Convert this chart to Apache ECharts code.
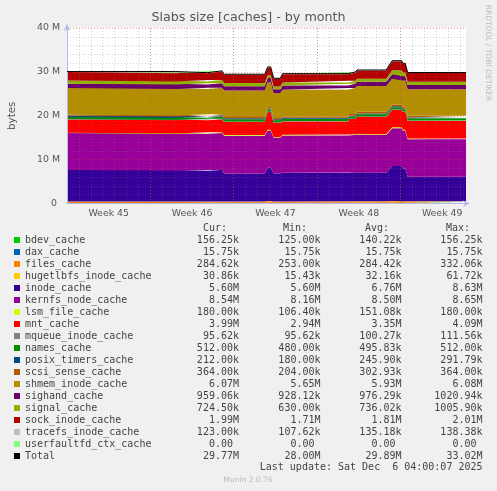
<!DOCTYPE html>
<html><head><meta charset="utf-8">
<script src="https://cdn.jsdelivr.net/npm/echarts@6/dist/echarts.min.js"></script>
<style>html,body{margin:0;padding:0;background:#f0f0f0}#c{width:497px;height:491px}</style>
</head><body><div id="c"></div>
<script>
// time points in days from the start of Week 45 (Mon 3 Nov 2025)
const days = [0, 9.1, 9.15, 11.8, 11.85, 13.0, 13.2, 16.6, 16.85, 17.1, 17.35, 17.9, 18.1, 23.6, 23.7, 24.2, 24.35, 26.8, 27.3, 28.1, 28.2, 28.4, 28.6, 33.5];
const weekLabels = ['Week 45', 'Week 46', 'Week 47', 'Week 48', 'Week 49'];
const yTickLabels = ['0 ', '10 M', '20 M', '30 M', '40 M'];

// values in M (millions of bytes)
const bdev_cache = [.125,.125,.125,.125,.13,.13,.13,.13,.14,.14,.14,.14,.14,.14,.14,.14,.15,.15,.15,.15,.156,.156,.156,.156];
const dax_cache = [.01575,.01575,.01575,.01575,.01575,.01575,.01575,.01575,.01575,.01575,.01575,.01575,.01575,.01575,.01575,.01575,.01575,.01575,.01575,.01575,.01575,.01575,.01575,.01575];
const files_cache = [.285,.285,.285,.285,.27,.27,.26,.26,.33,.33,.25,.25,.29,.29,.29,.29,.29,.29,.33,.33,.30,.30,.285,.285];
const hugetlbfs_inode_cache = [.0154,.0154,.0154,.0154,.031,.031,.031,.031,.062,.062,.031,.031,.031,.031,.046,.046,.031,.031,.062,.062,.031,.031,.031,.031];
const inode_cache = [7.2,7.2,7.05,7.05,7.2,7.2,6.4,6.4,7.6,7.6,6.4,6.4,6.55,6.55,6.55,6.55,6.55,6.55,8.0,8.0,7.5,7.5,5.6,5.6];
const kernfs_node_cache = [8.4,8.4,8.35,8.35,8.45,8.45,8.6,8.6,8.5,8.5,8.2,8.2,8.5,8.5,8.55,8.55,8.6,8.6,8.62,8.62,8.65,8.65,8.54,8.54];
const lsm_file_cache = [.11,.11,.11,.11,.12,.12,.15,.15,.16,.16,.11,.11,.15,.15,.15,.15,.17,.17,.18,.18,.18,.18,.18,.18];
const mnt_cache = [3.0,3.0,3.0,3.0,3.0,3.0,3.0,3.0,4.05,4.05,3.2,3.2,3.04,3.04,3.5,3.5,3.9,3.9,4.0,4.0,4.05,4.05,3.99,3.99];
const mqueue_inode_cache = [.111,.111,.111,.111,.11,.11,.1,.1,.1,.1,.1,.1,.096,.096,.096,.096,.096,.096,.096,.096,.096,.096,.096,.096];
const names_cache = [.48,.48,.48,.48,.5,.5,.5,.5,.5,.5,.5,.5,.5,.5,.5,.5,.512,.512,.512,.512,.512,.512,.512,.512];
const posix_timers_cache = [.29,.29,.29,.29,.28,.28,.25,.25,.22,.22,.23,.23,.24,.24,.24,.24,.22,.22,.2,.2,.19,.19,.212,.212];
const scsi_sense_cache = [.2,.2,.2,.2,.25,.25,.3,.3,.32,.32,.3,.3,.3,.3,.33,.33,.36,.36,.36,.36,.364,.364,.364,.364];
const shmem_inode_cache = [6.08,6.08,6.08,6.08,6.05,6.05,6.0,6.0,5.65,5.65,5.65,5.65,6.05,6.05,5.9,5.9,5.9,5.9,5.9,5.9,6.0,6.0,6.07,6.07];
const sighand_cache = [1.0,1.0,1.0,1.0,1.0,1.0,1.0,1.0,.95,.95,.93,.93,1.0,1.0,.97,.97,.97,.97,1.02,1.02,.98,.98,.96,.96];
const signal_cache = [.7,.7,.7,.7,.75,.75,.7,.7,.65,.65,.63,.63,.7,.7,.7,.7,.68,.68,.95,.95,.85,.85,.72,.72];
const sock_inode_cache = [1.95,1.95,1.9,1.9,1.95,1.95,1.9,1.9,1.75,1.75,1.72,1.72,1.85,1.85,1.85,1.85,1.85,1.85,2.01,2.01,1.95,1.95,1.99,1.99];
const tracefs_inode_cache = [.11,.11,.11,.11,.12,.12,.13,.13,.138,.138,.13,.13,.138,.138,.138,.138,.138,.138,.138,.138,.13,.13,.123,.123];
const userfaultfd_ctx_cache = [0,0,0,0,0,0,0,0,0,0,0,0,0,0,0,0,0,0,0,0,0,0,0,0];

const seriesNames = ['bdev_cache','dax_cache','files_cache','hugetlbfs_inode_cache','inode_cache','kernfs_node_cache','lsm_file_cache','mnt_cache','mqueue_inode_cache','names_cache','posix_timers_cache','scsi_sense_cache','shmem_inode_cache','sighand_cache','signal_cache','sock_inode_cache','tracefs_inode_cache','userfaultfd_ctx_cache'];
const seriesValues = [bdev_cache,dax_cache,files_cache,hugetlbfs_inode_cache,inode_cache,kernfs_node_cache,lsm_file_cache,mnt_cache,mqueue_inode_cache,names_cache,posix_timers_cache,scsi_sense_cache,shmem_inode_cache,sighand_cache,signal_cache,sock_inode_cache,tracefs_inode_cache,userfaultfd_ctx_cache];
const seriesColors = ['#00CC00','#0066B3','#FF8000','#FFCC00','#330099','#990099','#CCFF00','#FF0000','#808080','#008F00','#00487D','#B35A00','#B38F00','#6B006B','#8FB300','#B30000','#BEBEBE','#80FF80'];

const legendNames = seriesNames.concat(['Total']);
const curVals = ['156.25k','15.75k','284.62k','30.86k','5.60M','8.54M','180.00k','3.99M','95.62k','512.00k','212.00k','364.00k','6.07M','959.06k','724.50k','1.99M','123.00k','0.00 ','29.77M'];
const minVals = ['125.00k','15.75k','253.00k','15.43k','5.60M','8.16M','106.40k','2.94M','95.62k','480.00k','180.00k','204.00k','5.65M','928.12k','630.00k','1.71M','107.62k','0.00 ','28.00M'];
const avgVals = ['140.22k','15.75k','284.42k','32.16k','6.76M','8.50M','151.08k','3.35M','100.27k','495.83k','245.90k','302.93k','5.93M','976.29k','736.02k','1.81M','135.18k','0.00 ','29.89M'];
const maxVals = ['156.25k','15.75k','332.06k','61.72k','8.63M','8.65M','180.00k','4.09M','111.56k','512.00k','291.79k','364.00k','6.08M','1020.94k','1005.90k','2.01M','138.38k','0.00 ','33.02M'];
const headers = ['Cur:', 'Min:', 'Avg:', 'Max:'];

const DAY = 86400000;
const startMs = Date.UTC(2025, 10, 3);
const spanDays = 33.5;
const times = days.map(d => startMs + d * DAY);
const totalValues = days.map((d, j) => seriesValues.reduce((s, arr) => s + arr[j], 0));

const chart = echarts.init(document.getElementById('c'), null, {renderer: 'canvas'});
const mono = 'DejaVu Sans Mono';
const sans = 'DejaVu Sans';
const minorColor = 'rgba(120,120,120,0.35)';
const majorColor = 'rgba(230,60,60,0.45)';

const series = seriesNames.map((n, i) => ({
  name: n, type: 'line', stack: 'all', xAxisIndex: 0, yAxisIndex: 0,
  data: times.map((t, j) => [t, seriesValues[i][j]]),
  symbol: 'none', showSymbol: false, silent: true, z: 2,
  color: seriesColors[i],
  itemStyle: {color: seriesColors[i]},
  lineStyle: {width: 0, color: seriesColors[i]},
  areaStyle: {color: seriesColors[i], opacity: 1}
}));
series.push({
  name: 'Total', type: 'line', xAxisIndex: 0, yAxisIndex: 0,
  data: times.map((t, j) => [t, totalValues[j]]),
  symbol: 'none', showSymbol: false, silent: true, z: 6,
  color: '#000', itemStyle: {color: '#000'},
  lineStyle: {width: 1, color: '#000'}
});

const richBase = {fontFamily: mono, fontSize: 10, color: '#444', lineHeight: 12};
const txt = (x, y, text, font, fill, align) => ({type: 'text', x: x, y: y, silent: true,
  style: {text: text, font: font, fill: fill, align: align, textAlign: align, verticalAlign: 'middle', textVerticalAlign: 'middle'}});

const option = {
  backgroundColor: '#f0f0f0',
  animation: false,
  textStyle: {fontFamily: sans},
  title: {
    text: 'Slabs size [caches] - by month', left: 'center', top: 11, padding: 0,
    textStyle: {fontFamily: sans, fontSize: 12.7, fontWeight: 'normal', color: '#555'}
  },
  grid: {left: 67, right: 31, top: 28, bottom: 287.5, show: true, backgroundColor: '#ffffff', borderWidth: 0,
         containLabel: false, outerBoundsMode: 'none'},
  xAxis: [
    {type: 'time', min: startMs, max: startMs + spanDays * DAY, position: 'bottom', z: 5,
     axisLine: {show: true, onZero: false, lineStyle: {color: '#b8b8e8', width: 1}, symbol: ['none', 'arrow'], symbolSize: [5, 7], symbolOffset: [0, 4]},
     axisTick: {show: false}, axisLabel: {show: false}, splitLine: {show: false}, minorSplitLine: {show: false}},
    {type: 'value', min: 0, max: spanDays, interval: 1, position: 'bottom', z: 3,
     axisLine: {show: false}, axisTick: {show: false}, axisLabel: {show: false},
     splitLine: {show: true, showMinLine: false, showMaxLine: false, lineStyle: {color: minorColor, type: [1, 2], width: 1}}},
    {type: 'value', min: 0, max: spanDays, interval: 7, position: 'bottom', z: 4,
     axisLine: {show: false}, axisTick: {show: false}, axisLabel: {show: false},
     splitLine: {show: true, showMinLine: false, showMaxLine: false, lineStyle: {color: majorColor, type: [1, 2], width: 1}}},
    {type: 'value', min: 0, max: spanDays, interval: 3.5, position: 'bottom', z: 4,
     axisLine: {show: false}, axisTick: {show: false}, splitLine: {show: false},
     axisLabel: {show: true, margin: 6, color: '#555', fontFamily: sans, fontSize: 9.4,
       formatter: v => (Math.abs((v % 7) - 3.5) < 0.01 ? (weekLabels[Math.floor(v / 7)] || '') : '')}}
  ],
  yAxis: {
    type: 'value', min: 0, max: 40, interval: 10, z: 5,
    name: 'bytes', nameLocation: 'middle', nameGap: 50,
    nameTextStyle: {color: '#555', fontFamily: sans, fontSize: 10.3},
    axisLine: {show: true, onZero: false, lineStyle: {color: '#b8b8e8', width: 1}, symbol: ['none', 'arrow'], symbolSize: [5, 7], symbolOffset: [0, 4]},
    axisTick: {show: false},
    axisLabel: {margin: 7, color: '#555', fontFamily: sans, fontSize: 9.4, formatter: v => yTickLabels[Math.round(v / 10)]},
    splitLine: {show: true, showMinLine: false, lineStyle: {color: majorColor, type: [1, 2], width: 1}},
    minorTick: {show: false, splitNumber: 5},
    minorSplitLine: {show: true, lineStyle: {color: minorColor, type: [1, 2], width: 1}}
  },
  legend: {
    orient: 'vertical', left: 14, top: 234, padding: 0, itemGap: 0,
    itemWidth: 6, itemHeight: 6, icon: 'rect', selectedMode: false,
    data: legendNames,
    formatter: name => {
      const i = legendNames.indexOf(name);
      return '{n|' + name + '}{c|' + curVals[i] + '}{m|' + minVals[i] + '}{a|' + avgVals[i] + '}{x|' + maxVals[i] + '}';
    },
    textStyle: Object.assign({}, richBase, {
      rich: {
        n: Object.assign({}, richBase, {width: 133, align: 'left'}),
        c: Object.assign({}, richBase, {width: 81, align: 'right'}),
        m: Object.assign({}, richBase, {width: 81.5, align: 'right'}),
        a: Object.assign({}, richBase, {width: 81, align: 'right'}),
        x: Object.assign({}, richBase, {width: 81, align: 'right'})
      }
    })
  },
  graphic: [
    txt(227, 228, headers[0], '10px ' + mono, '#444', 'right'),
    txt(307, 228, headers[1], '10px ' + mono, '#444', 'right'),
    txt(389, 228, headers[2], '10px ' + mono, '#444', 'right'),
    txt(470, 228, headers[3], '10px ' + mono, '#444', 'right'),
    txt(482.5, 467, 'Last update: Sat Dec  6 04:00:07 2025', '10px ' + mono, '#444', 'right'),
    txt(248, 480, 'Munin 2.0.76', '7.5px ' + sans, '#bbbbbb', 'center'),
    Object.assign(txt(488, 53, 'RRDTOOL / TOBI OETIKER', '7.5px ' + sans, '#bbbbbb', 'center'), {rotation: -Math.PI / 2})
  ],
  series: series
};
chart.setOption(option);
</script>
</body></html>
